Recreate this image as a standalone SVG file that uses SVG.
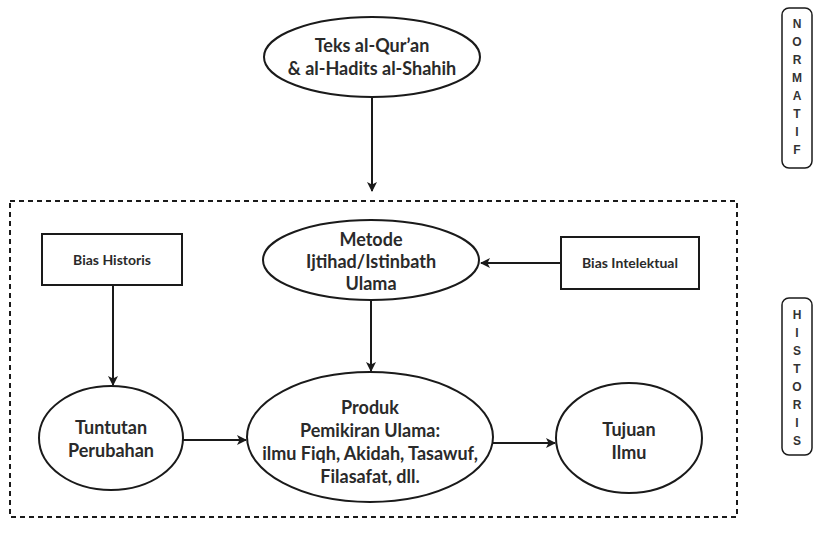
<svg xmlns="http://www.w3.org/2000/svg" width="816" height="536" viewBox="0 0 816 536">
<defs>
<style>
.shape{fill:#fff;stroke:#1a1a1a;stroke-width:2}
.t{font-family:Lato,"Open Sans","Liberation Sans",sans-serif;font-weight:bold;fill:#2a2a2a;text-anchor:middle}
.big{font-size:18px}
.small{font-size:14px}
.side{font-family:"Liberation Sans",Arial,sans-serif;font-weight:bold;font-size:12px;fill:#333;text-anchor:middle}
.conn{stroke:#1a1a1a;stroke-width:2;fill:none;marker-end:url(#ah)}
</style>
<marker id="ah" viewBox="0 0 10 10" refX="9" refY="5" markerWidth="6" markerHeight="5" orient="auto" markerUnits="strokeWidth">
<path d="M0,0 L10,5 L0,10 L2.5,5 Z" fill="#1a1a1a"/>
</marker>
</defs>
<rect width="816" height="536" fill="#fff"/>

<rect id="historis-frame" x="10" y="201" width="727" height="316" fill="none" stroke="#1a1a1a" stroke-width="2" stroke-dasharray="5,4"/>

<g id="connectors">
<line class="conn" x1="372" y1="97" x2="372" y2="191"/>
<line class="conn" x1="561" y1="263" x2="481" y2="263"/>
<line class="conn" x1="113" y1="286" x2="113" y2="385"/>
<line class="conn" x1="371" y1="300" x2="371" y2="371"/>
<line class="conn" x1="183" y1="440" x2="246" y2="440"/>
<line class="conn" x1="493" y1="443" x2="555" y2="443"/>
</g>

<g id="teks">
<ellipse class="shape" cx="372" cy="57" rx="108" ry="40"/>
<text class="t big" x="372" y="52">Teks al-Qur’an</text>
<text class="t big" x="372" y="75">&amp; al-Hadits al-Shahih</text>
</g>

<g id="bias-historis">
<rect class="shape" x="42" y="234" width="140" height="51"/>
<text class="t small" x="112" y="265">Bias Historis</text>
</g>

<g id="metode">
<ellipse class="shape" cx="371" cy="260" rx="108" ry="40"/>
<text class="t big" x="371" y="246">Metode</text>
<text class="t big" x="371" y="268">Ijtihad/Istinbath</text>
<text class="t big" x="371" y="290">Ulama</text>
</g>

<g id="bias-intelektual">
<rect class="shape" x="561" y="237" width="138" height="52"/>
<text class="t small" x="630" y="268">Bias Intelektual</text>
</g>

<g id="tuntutan">
<ellipse class="shape" cx="111" cy="438" rx="72" ry="52"/>
<text class="t big" x="111" y="434">Tuntutan</text>
<text class="t big" x="111" y="457">Perubahan</text>
</g>

<g id="produk">
<ellipse class="shape" cx="370" cy="437" rx="123" ry="65"/>
<text class="t big" x="370" y="414">Produk</text>
<text class="t big" x="370" y="437">Pemikiran Ulama:</text>
<text class="t big" x="370" y="460">ilmu Fiqh, Akidah, Tasawuf,</text>
<text class="t big" x="370" y="483">Filasafat, dll.</text>
</g>

<g id="tujuan">
<ellipse class="shape" cx="629" cy="438" rx="73" ry="55"/>
<text class="t big" x="629" y="436">Tujuan</text>
<text class="t big" x="629" y="459">Ilmu</text>
</g>

<g id="normatif">
<rect x="782" y="8" width="30" height="160" rx="7" fill="#fff" stroke="#1a1a1a" stroke-width="1.5"/>
<text class="side" x="797" y="28">N</text>
<text class="side" x="797" y="46">O</text>
<text class="side" x="797" y="64">R</text>
<text class="side" x="797" y="82">M</text>
<text class="side" x="797" y="100">A</text>
<text class="side" x="797" y="118">T</text>
<text class="side" x="797" y="136">I</text>
<text class="side" x="797" y="154">F</text>
</g>

<g id="historis">
<rect x="782" y="298" width="30" height="157" rx="7" fill="#fff" stroke="#1a1a1a" stroke-width="1.5"/>
<text class="side" x="797" y="319">H</text>
<text class="side" x="797" y="337">I</text>
<text class="side" x="797" y="355">S</text>
<text class="side" x="797" y="373">T</text>
<text class="side" x="797" y="391">O</text>
<text class="side" x="797" y="409">R</text>
<text class="side" x="797" y="427">I</text>
<text class="side" x="797" y="445">S</text>
</g>
</svg>
